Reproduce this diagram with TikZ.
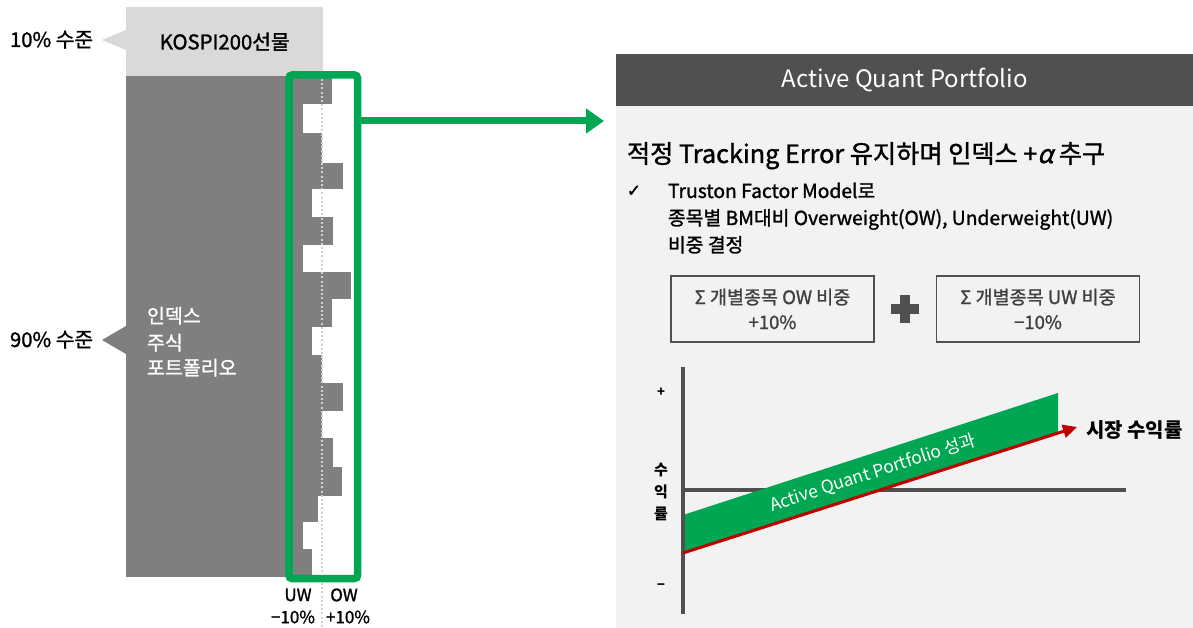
\documentclass[tikz,border=0pt]{standalone}
\usepackage{fontspec}
\setmainfont{Noto Sans CJK KR}
\newfontfamily\medfont[FakeBold=1.3]{Noto Sans CJK KR}
\newfontfamily\alfont[FakeSlant=0.25,FakeBold=1.5]{Noto Sans CJK KR}
\newfontfamily\symfont[FakeBold=1.5]{DejaVu Sans}
\usetikzlibrary{arrows.meta}
\definecolor{qgreen}{RGB}{0,166,81}
\definecolor{dgray}{RGB}{127,127,127}
\definecolor{lgray}{RGB}{217,217,217}
\definecolor{hgray}{RGB}{80,80,80}
\definecolor{pbg}{RGB}{242,242,242}
\definecolor{qred}{RGB}{192,0,0}
\definecolor{txtgray}{RGB}{64,64,64}
\definecolor{dotgray}{RGB}{210,210,210}
\newcommand{\fs}[1]{\fontsize{#1}{#1}\selectfont}
\begin{document}
\begin{tikzpicture}[x=1pt,y=-1pt,
  lbl/.style={inner sep=0,outer sep=0,text=black},
  sumbox/.style={draw=hgray,line width=1.2pt,minimum width=203pt,minimum height=66pt,align=center,inner sep=0,text=txtgray,font=\medfont\fs{18.5},execute at begin node=\setlength{\baselineskip}{25pt}},
  axis/.style={draw=hgray,line width=3.5pt}]
\useasboundingbox (0,0) rectangle (1193,628);
\fill[white] (0,0) rectangle (1193,628);
% ---------- left side ----------
\node[fill=lgray,minimum width=197pt,minimum height=69pt,anchor=north west,inner sep=0,font=\medfont\fs{20.3}] (kospi) at (126,7) {KOSPI200선물};
\fill[lgray] (126,30) -- (102,40) -- (126,50) -- cycle;
\node[lbl,anchor=base west,font=\medfont\fs{20.3}] (l10) at (10,47) {10\% 수준};
% index column with UW/OW bars
\foreach \ya/\yb/\xe in {76/104/332,104/133/303,133/163/322,163/189/343,189/217/312,217/245/333,245/272/303,272/299/351,299/327/332,327/355/312,355/383/322,383/411/343,411/438/322,438/467/333,467/496/342,496/522/318,522/549/303,549/577/312}
  \fill[dgray] (126,\ya) rectangle (\xe,\yb+0.3);
\fill[dgray] (126,326) -- (102,340) -- (126,354) -- cycle;
\node[lbl,anchor=base west,font=\medfont\fs{20.3}] (l90) at (10,347) {90\% 수준};
\node[lbl,anchor=base west,font=\medfont\fs{19.5},text=white] (idx1) at (147,323) {인덱스};
\node[lbl,anchor=base west,font=\medfont\fs{19.5},text=white] (idx2) at (147,350) {주식};
\node[lbl,anchor=base west,font=\medfont\fs{19.5},text=white] (idx3) at (147,375) {포트폴리오};
\draw[dotgray,line width=1.6pt,dash pattern=on 2pt off 2.2pt] (322,79) -- (322,628);
\node[draw=qgreen,line width=7.5pt,rounded corners=3pt,minimum width=68.5pt,minimum height=503.5pt,inner sep=0] (frame) at (323.25,326.75) {};
\node[lbl,font=\medfont\fs{17}] (uw) at (298,595) {UW};
\node[lbl,font=\medfont\fs{17}] (uwv) at (293,617) {−10\%};
\node[lbl,font=\medfont\fs{17}] (ow) at (344,595) {OW};
\node[lbl,font=\medfont\fs{17}] (owv) at (348,617) {+10\%};
\coordinate (a1) at (361,121);
\coordinate (a2) at (604,121);
\draw[qgreen,line width=7pt,-{Triangle[length=18pt,width=24pt]}] (a1) -- (a2);
% ---------- right panel ----------
\fill[pbg] (616,106) rectangle (1193,628);
\node[fill=hgray,minimum width=577pt,minimum height=52pt,anchor=north west,inner sep=0,text=white,font=\fs{24}] (hdr) at (616,54) {Active Quant Portfolio};
\node[lbl,anchor=base west,font=\medfont\fs{25.2}] (title) at (627,163) {적정 Tracking Error 유지하며 인덱스 +{\alfont α} 추구};
\node[lbl,font=\fs{17}] (chk) at (634,191) {\symfont ✓};
\node[lbl,anchor=base west,font=\medfont\fs{19.3}] (t1) at (668,198) {Truston Factor Model로};
\node[lbl,anchor=base west,font=\medfont\fs{19.3}] (t2) at (668,225) {종목별 BM대비 Overweight(OW), Underweight(UW)};
\node[lbl,anchor=base west,font=\medfont\fs{19.3}] (t3) at (668,252) {비중 결정};
\node[sumbox] (b1) at (772.5,309) {Σ 개별종목 OW 비중\\+10\%};
\node[sumbox] (b2) at (1038,309) {Σ 개별종목 UW 비중\\−10\%};
\fill[hgray] (891,304) rectangle (919,314);
\fill[hgray] (900,295) rectangle (910,323);
% ---------- chart ----------
\coordinate (yt) at (683,367);
\coordinate (yb) at (683,614);
\coordinate (xl) at (683,490);
\coordinate (xr) at (1126,490);
\draw[axis] (xl) -- (xr);
\fill[qgreen] (683,515) -- (1058,393) -- (1058,433) -- (683,553) -- cycle;
\draw[axis] (yt) -- (yb);
\coordinate (m1) at (683,553);
\coordinate (m2) at (1077,427);
\draw[qred,line width=3pt,-{Triangle[length=14pt,width=13pt]}] (m1) -- (m2);
\node[lbl,text=white,rotate=17.8,font=\fs{17.5}] (band) at (873,473) {Active Quant Portfolio 성과};
\node[lbl,anchor=west,font=\fs{20}\bfseries] (mkt) at (1086,430) {시장 수익률};
\node[lbl,font=\fs{13}\bfseries] (plus) at (661,392) {+};
\node[lbl,font=\fs{13}\bfseries] (minus) at (661,587) {−};
\node[lbl,font=\fs{15}\bfseries] (y1) at (661,470) {수};
\node[lbl,font=\fs{15}\bfseries] (y2) at (661,492) {익};
\node[lbl,font=\fs{15}\bfseries] (y3) at (661,514) {률};
\end{tikzpicture}
\end{document}
